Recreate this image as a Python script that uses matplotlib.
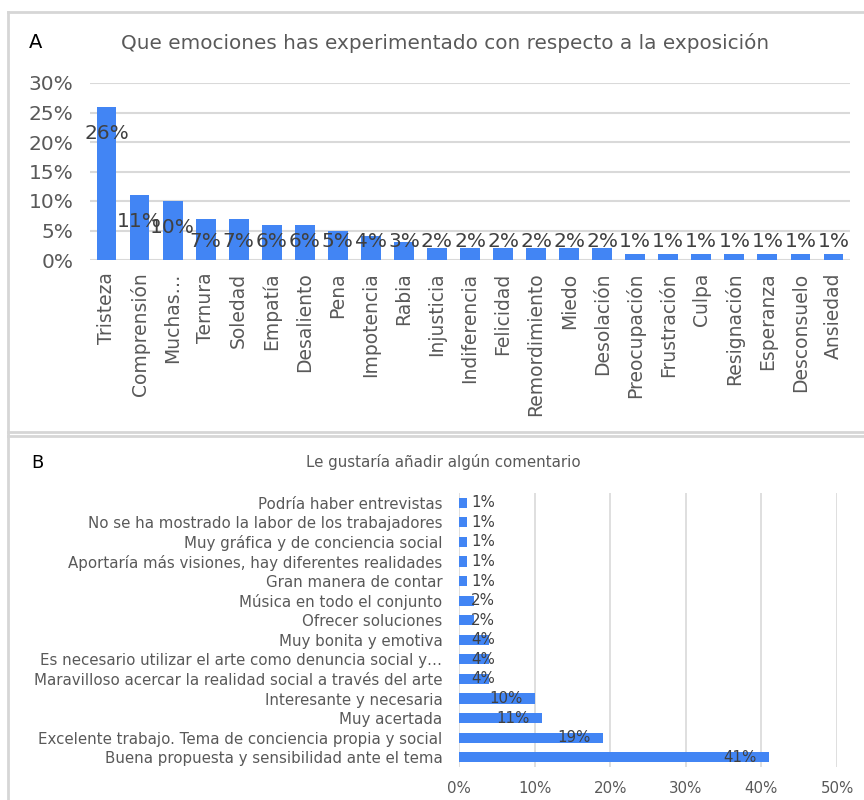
import matplotlib
matplotlib.use("Agg")
import matplotlib.pyplot as plt
from matplotlib.lines import Line2D
import numpy as np

plt.rcParams['font.family'] = ['DejaVu Sans']

# Panel A: emotions
emociones = ["Tristeza", "Comprensión", "Muchas…", "Ternura", "Soledad", "Empatía",
             "Desaliento", "Pena", "Impotencia", "Rabia", "Injusticia", "Indiferencia",
             "Felicidad", "Remordimiento", "Miedo", "Desolación", "Preocupación",
             "Frustración", "Culpa", "Resignación", "Esperanza", "Desconsuelo", "Ansiedad"]
emociones_pct = [26, 11, 10, 7, 7, 6, 6, 5, 4, 3, 2, 2, 2, 2, 2, 2, 1, 1, 1, 1, 1, 1, 1]
ticks_a = [0, 5, 10, 15, 20, 25, 30]

# Panel B: comments (top to bottom)
comentarios = ["Podría haber entrevistas",
               "No se ha mostrado la labor de los trabajadores",
               "Muy gráfica y de conciencia social",
               "Aportaría más visiones, hay diferentes realidades",
               "Gran manera de contar",
               "Música en todo el conjunto",
               "Ofrecer soluciones",
               "Muy bonita y emotiva",
               "Es necesario utilizar el arte como denuncia social y…",
               "Maravilloso acercar la realidad social a través del arte",
               "Interesante y necesaria",
               "Muy acertada",
               "Excelente trabajo. Tema de conciencia propia y social",
               "Buena propuesta y sensibilidad ante el tema"]
comentarios_pct = [1, 1, 1, 1, 1, 2, 2, 4, 4, 4, 10, 11, 19, 41]
ticks_b = [0, 10, 20, 30, 40, 50]

BLUE = "#4285F4"
GRID = "#d9d9d9"
TXT = "#595959"
LBL = "#404040"

W, H = 864, 800
fig = plt.figure(figsize=(W / 100, H / 100), dpi=100)

def fx(px):
    return px / W

def fy(py):
    return 1 - py / H

# panel frames
frame = dict(color="#d6d6d6", lw=2, transform=fig.transFigure)
fig.add_artist(Line2D([fx(8), fx(870)], [fy(12), fy(12)], **frame))
fig.add_artist(Line2D([fx(8), fx(8)], [fy(12), fy(810)], **frame))
fig.add_artist(Line2D([fx(8), fx(870)], [fy(432), fy(432)], **frame))
fig.add_artist(Line2D([fx(8), fx(870)], [fy(435.5), fy(435.5)], **frame))

# ---------- Panel A ----------
axA = fig.add_axes([fx(90), fy(260), fx(850) - fx(90), fy(83) - fy(260)])
x = np.arange(len(emociones))
axA.bar(x, emociones_pct, width=0.6, color=BLUE, zorder=3)
axA.set_xlim(-0.5, len(emociones) - 0.5)
axA.set_ylim(0, 30)
axA.set_yticks(ticks_a)
axA.set_yticklabels([f"{t}%" for t in ticks_a], fontsize=14.5, color=TXT)
axA.set_xticks(x)
axA.set_xticklabels(emociones, rotation=90, fontsize=13.5, color=TXT, va="top")
axA.tick_params(length=0, pad=9)
axA.tick_params(axis="y", pad=12)
axA.grid(axis="y", color=GRID, lw=1.5, zorder=0)
for s in axA.spines.values():
    s.set_visible(False)
for xi, v in zip(x, emociones_pct):
    axA.text(xi, max(v - 4.5, 3.2), f"{v}%", ha="center", va="center",
             fontsize=14.5, color=LBL, zorder=4)

fig.text(fx(445), fy(43), "Que emociones has experimentado con respecto a la exposición",
         ha="center", va="center", fontsize=14.4, color=TXT)
fig.text(fx(29), fy(43), "A", ha="left", va="center", fontsize=14, color="black")

# ---------- Panel B ----------
axB = fig.add_axes([fx(459), fy(767), fx(837) - fx(459), fy(493) - fy(767)])
y = np.arange(len(comentarios))
axB.barh(y, comentarios_pct, height=0.52, color=BLUE, zorder=3)
axB.set_ylim(len(comentarios) - 0.5, -0.5)
axB.set_xlim(0, 50)
axB.set_xticks(ticks_b)
axB.set_xticklabels([f"{t}%" for t in ticks_b], fontsize=10.8, color=TXT)
axB.set_yticks(y)
axB.set_yticklabels(comentarios, fontsize=10.8, color=TXT)
axB.tick_params(length=0)
axB.tick_params(axis="y", pad=12)
axB.tick_params(axis="x", pad=10)
axB.grid(axis="x", color=GRID, lw=1.2, zorder=0)
for s in axB.spines.values():
    s.set_visible(False)
for yi, v in zip(y, comentarios_pct):
    axB.text(max(v - 1.6, 4.8), yi, f"{v}%", ha="right", va="center",
             fontsize=10.8, color=LBL, zorder=4)

fig.text(fx(443), fy(462), "Le gustaría añadir algún comentario",
         ha="center", va="center", fontsize=10.8, color=TXT)
fig.text(fx(31), fy(463), "B", ha="left", va="center", fontsize=13, color="black")

fig.savefig("out.png", dpi=100, facecolor="white")
